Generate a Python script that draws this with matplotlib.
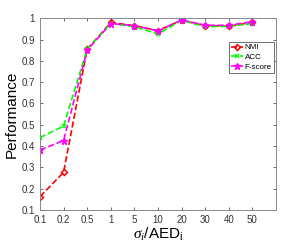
import matplotlib
matplotlib.use('Agg')
import matplotlib.pyplot as plt

plt.rcParams['font.family'] = ['Liberation Sans', 'DejaVu Sans']
plt.rcParams['mathtext.fontset'] = 'custom'
plt.rcParams['mathtext.it'] = 'Liberation Serif:italic'
plt.rcParams['mathtext.rm'] = 'Liberation Sans'

x_labels = ['0.1', '0.2', '0.5', '1', '5', '10', '20', '30', '40', '50']
nmi = [0.163, 0.277, 0.855, 0.98, 0.965, 0.942, 0.99, 0.965, 0.963, 0.98]
acc = [0.44, 0.494, 0.855, 0.975, 0.96, 0.926, 0.99, 0.96, 0.962, 0.975]
fscore = [0.382, 0.426, 0.85, 0.975, 0.965, 0.94, 0.992, 0.967, 0.967, 0.983]

pos = list(range(1, len(x_labels) + 1))

fig = plt.figure(figsize=(3.05, 2.46), dpi=100)
ax = fig.add_axes([0.131, 0.146, 0.774, 0.780])

ax.plot(pos, nmi, '--', color='red', marker='D', mfc='none', mec='red',
        ms=3, lw=1.2, mew=1.1, label='NMI')
ax.plot(pos, acc, '--', color='#00ff00', marker='x', ms=3, lw=1.2, mew=1.1,
        label='ACC')
ax.plot(pos, fscore, '--', color='magenta', marker='*', ms=4.5, lw=1.2,
        label='F-score')

ax.set_xlim(1, 11)
ax.set_ylim(0.1, 1)
ax.set_xticks(pos)
ax.set_xticklabels(x_labels)
ax.set_yticks([0.1, 0.2, 0.3, 0.4, 0.5, 0.6, 0.7, 0.8, 0.9, 1.0])
ax.set_yticklabels(['0.1', '0.2', '0.3', '0.4', '0.5', '0.6', '0.7', '0.8', '0.9', '1'])
ax.tick_params(direction='in', top=True, right=True, labelsize=7, length=2.5,
               width=0.6, colors='#555555', labelcolor='#333333')
for s in ax.spines.values():
    s.set_color('#888888')
    s.set_linewidth(0.7)

ax.set_ylabel('Performance', fontsize=11, labelpad=2)
ax.set_xlabel(r'$\sigma_i$/AED$_\mathrm{i}$', fontsize=11, labelpad=1)

leg = ax.legend(loc='upper right', bbox_to_anchor=(0.99, 0.877), fontsize=5.8,
                handlelength=1.5, borderpad=0.25, labelspacing=0.25,
                handletextpad=0.2, borderaxespad=0, fancybox=False, framealpha=1)
leg.get_frame().set_edgecolor('#555555')
leg.get_frame().set_linewidth(0.6)

fig.savefig('out.png', dpi=100)
